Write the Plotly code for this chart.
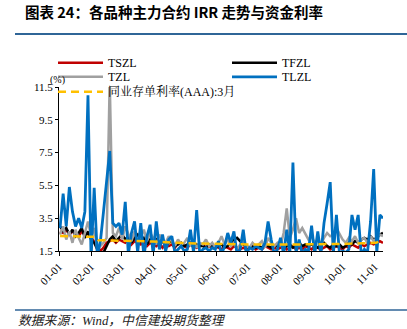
import pandas as pd
import plotly.graph_objects as go

# ---- data ----
dates = pd.date_range("2024-01-02", periods=105, freq="3D")

tszl = [2.7, 2.6, 2.8, 2.5, 2.7, 2.6, 2.4, 2.7, 2.5, 2.6,
        2.3, 2.1, 1.8, 1.5, 1.7, 2.0, 2.1, 2.2, 2.0, 2.2,
        2.1, 2.0, 2.2, 1.9, 2.1, 2.0, 1.9, 2.1, 1.8, 2.0,
        1.9, 1.8, 2.0, 1.7, 1.9, 1.8, 1.9, 1.7, 2.0, 1.9,
        1.8, 1.7, 1.9, 1.8, 1.7, 1.8, 1.9, 1.7, 1.8, 1.7,
        1.8, 1.7, 1.6, 1.8, 1.7, 1.6, 1.8, 1.7, 1.6, 1.7,
        1.6, 1.7, 1.8, 1.6, 1.7, 1.6, 1.8, 1.7, 1.6, 1.7,
        1.6, 1.7, 1.8, 1.6, 1.7, 1.8, 1.6, 1.7, 1.6, 1.8,
        1.7, 1.6, 1.8, 1.7, 1.6, 1.7, 1.8, 1.6, 1.7, 1.8,
        1.7, 1.6, 1.8, 1.7, 1.9, 1.8, 1.7, 1.9, 1.8, 1.9,
        2.0, 1.9, 2.0, 2.1, 2.0]

tfzl = [3.0, 2.7, 2.9, 2.5, 2.8, 2.4, 2.6, 2.9, 2.3, 2.7,
        2.2, 2.0, 1.6, 1.2, 1.4, 1.8, 2.2, 2.4, 2.1, 2.3,
        2.5, 2.2, 2.4, 2.0, 2.3, 2.5, 2.1, 2.3, 1.9, 2.2,
        2.0, 2.2, 1.9, 2.1, 1.8, 2.0, 2.1, 1.8, 1.9, 2.0,
        1.8, 1.9, 2.0, 1.7, 1.9, 1.8, 1.8, 1.7, 1.9, 1.8,
        1.7, 1.8, 1.9, 1.7, 1.8, 2.0, 2.2, 2.3, 2.1, 1.9,
        1.8, 1.7, 1.8, 1.7, 1.8, 1.7, 1.9, 1.8, 1.7, 1.8,
        1.8, 1.9, 1.7, 1.8, 1.9, 1.7, 1.8, 2.0, 1.8, 1.9,
        1.8, 1.9, 1.8, 1.7, 1.9, 2.0, 1.8, 1.7, 1.9, 1.8,
        1.9, 1.7, 1.8, 2.0, 1.9, 2.1, 2.0, 2.2, 2.3, 2.2,
        2.4, 2.2, 2.3, 2.5, 2.6]

tzl = [2.5, 3.0, 2.2, 2.7, 2.0, 2.8, 2.3, 1.9, 2.6, 3.3,
       2.4, 2.9, 1.6, 1.8, 2.0, 2.3, 11.9, 2.6, 2.4, 2.9,
       2.2, 3.0, 2.5, 2.1, 2.7, 2.0, 2.4, 2.8, 2.1, 2.6,
       2.3, 1.9, 2.5, 2.2, 2.0, 2.4, 2.1, 1.8, 2.2, 1.9,
       2.0, 2.3, 1.8, 2.1, 1.7, 2.0, 1.9, 2.2, 1.8, 2.0,
       1.7, 2.0, 2.4, 1.9, 2.2, 1.8, 2.0, 1.6, 1.9, 2.1,
       1.8, 1.7, 2.0, 1.8, 1.9, 2.1, 1.7, 2.3, 2.0, 1.8,
       2.0, 1.8, 2.6, 4.1, 2.3, 2.8, 3.5, 2.6, 2.9, 2.5,
       2.2, 2.4, 2.0, 2.2, 1.9, 2.3, 2.6, 2.4, 2.5, 2.9,
       2.5, 2.2, 2.0, 2.3, 2.1, 2.4, 2.0, 2.2, 2.3, 2.0,
       2.4, 2.1, 2.3, 2.5, 2.4]

tlzl = [2.9, 5.0, 3.0, 5.4, 3.9, 3.0, 3.5, 2.9, 3.9, 11.0,
        1.0, 5.35, 1.2, 2.1, 3.9, 5.8, 7.6, 3.2, 3.0, 3.2,
        2.5, 4.5, 1.3, 2.6, 3.3, 1.4, 3.2, 1.2, 2.4, 3.1,
        1.3, 3.3, 1.6, 2.5, 1.5, 2.2, 2.4, 1.4, 1.6, 1.8,
        1.5, 1.6, 2.8, 1.4, 4.0, 1.3, 1.6, 1.7, 1.5, 1.7,
        1.6, 2.1, 1.3, 1.8, 2.6, 2.0, 2.7, 1.3, 1.6, 2.8,
        1.3, 1.7, 1.6, 1.8, 1.7, 1.6, 2.0, 3.3, 2.2, 1.3,
        1.6, 2.3, 1.3, 2.8, 1.3, 6.9, 1.4, 2.2, 1.3, 1.6,
        1.5, 3.05, 1.3, 2.7, 1.3, 3.2, 4.4, 5.7, 1.3, 3.7,
        1.3, 1.5, 1.4, 1.6, 3.7, 2.8, 3.7, 1.3, 1.6, 1.4,
        3.3, 6.5, 1.4, 3.7, 3.5]

ncd_dates = ["2024-01-02", "2024-01-20", "2024-02-05", "2024-02-08", "2024-03-01",
             "2024-04-01", "2024-05-01", "2024-06-01", "2024-07-01", "2024-08-01",
             "2024-09-01", "2024-10-01", "2024-10-20", "2024-11-02", "2024-11-08"]
ncd = [2.42, 2.40, 2.36, 2.16, 2.12, 2.08, 1.98, 1.93, 1.90, 1.89,
       1.90, 1.93, 1.97, 2.00, 2.14]

names = ["TSZL", "TFZL", "TZL", "TLZL"]
colors = ["#C00000", "#000000", "#A0A0A0", "#0070C0"]
widths = [2.5, 2.5, 2.5, 2.8]
series = [tszl, tfzl, tzl, tlzl]
ncd_name = "同业存单利率(AAA):3月"

SERIF = "Liberation Serif, Times New Roman, Noto Serif CJK SC, Noto Sans CJK SC, serif"

L, R, T, B = 59, 24, 87, 78
ph = 329 - T - B


def py(ypx):
    return (329 - B - ypx) / ph


def px(xpx):
    return (xpx - L) / (407 - L - R)


# legend slots: (legend id, left px, row-centre px)
legend_ids = ["legend", "legend2", "legend3", "legend4", "legend5"]
legend_pos = [(53, 59.3), (227, 59.3), (53, 73.3), (227, 73.3), (53, 88.3)]

fig = go.Figure()
for nm, col, w, vals, lid in zip(names, colors, widths, series, legend_ids):
    fig.add_trace(go.Scatter(x=dates, y=vals, mode="lines", name=nm, legend=lid,
                             line=dict(color=col, width=w)))
fig.add_trace(go.Scatter(x=pd.to_datetime(ncd_dates), y=ncd, mode="lines", name=ncd_name,
                         legend=legend_ids[4],
                         line=dict(color="#FFC000", width=2.5, dash="8px,5px")))

legend_layout = {}
for lid, (lx, ly) in zip(legend_ids, legend_pos):
    legend_layout[lid] = dict(x=px(lx), y=py(ly - 11), xanchor="left", yanchor="top",
                              itemwidth=45, bgcolor="rgba(0,0,0,0)",
                              font=dict(family=SERIF, size=12, color="#000"))

fig.update_layout(
    width=407, height=329,
    margin=dict(l=L, r=R, t=T, b=B),
    paper_bgcolor="white", plot_bgcolor="white",
    font=dict(family=SERIF, size=11, color="#000000"),
    showlegend=True,
    title=dict(text="<b>图表 24：各品种主力合约 IRR 走势与资金利率</b>",
               x=25 / 407, xanchor="left", y=1 - 13 / 329, yanchor="middle",
               xref="container", yref="container",
               font=dict(family="Noto Sans CJK SC", size=14.5, color="#000000")),
    xaxis=dict(type="date", range=["2024-01-01", "2024-11-09"],
               tickformat="%m-%d", dtick="M1", tick0="2024-01-01",
               tickangle=-45, ticks="outside", ticklen=4, tickcolor="#000",
               showline=True, linecolor="#000", linewidth=1, showgrid=False,
               zeroline=False, tickfont=dict(family=SERIF, size=11, color="#000")),
    yaxis=dict(range=[1.5, 11.5], tickvals=[1.5, 3.5, 5.5, 7.5, 9.5, 11.5],
               ticktext=["1.5", "3.5", "5.5", "7.5", "9.5", "11.5"],
               ticks="outside", ticklen=3, tickcolor="#000",
               showline=True, linecolor="#000", linewidth=1, showgrid=False,
               zeroline=False, tickfont=dict(family=SERIF, size=11, color="#000")),
    **legend_layout,
)

fig.add_shape(type="line", xref="paper", yref="paper", x0=px(15), x1=px(407),
              y0=py(34), y1=py(34), line=dict(color="#2F6597", width=2.2))
fig.add_shape(type="line", xref="paper", yref="paper", x0=px(15), x1=px(407),
              y0=py(310), y1=py(310), line=dict(color="#2F6597", width=1.5))

fig.add_annotation(text="(%)", xref="paper", yref="paper", x=px(57), y=py(80),
                   showarrow=False, xanchor="center", yanchor="middle",
                   font=dict(family=SERIF, size=10, color="#000"))
fig.add_annotation(text="<i>数据来源：Wind，中信建投期货整理</i>", xref="paper", yref="paper",
                   x=px(16), y=py(321), showarrow=False, xanchor="left", yanchor="middle",
                   font=dict(family="Liberation Serif, Noto Sans CJK SC", size=12.8, color="#222"))

fig.write_html("out.html")
